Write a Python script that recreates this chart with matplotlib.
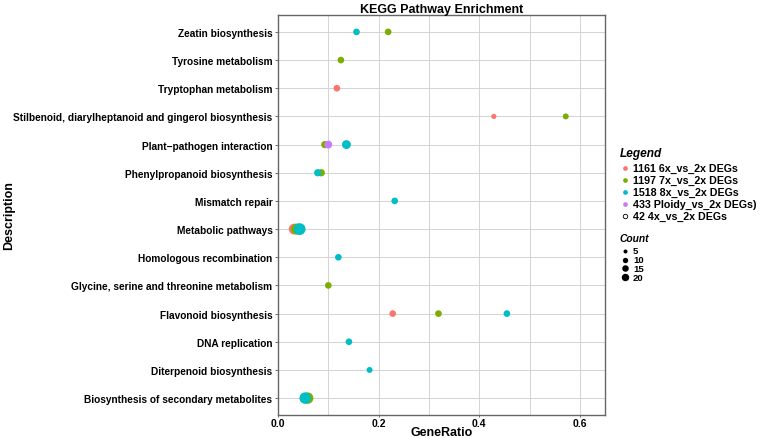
import numpy as np
import matplotlib
matplotlib.use("Agg")
import matplotlib.pyplot as plt

plt.rcParams['font.family'] = ['Liberation Sans', 'DejaVu Sans']

# pathways, bottom to top
pathways = [
    'Biosynthesis of secondary metabolites',
    'Diterpenoid biosynthesis',
    'DNA replication',
    'Flavonoid biosynthesis',
    'Glycine, serine and threonine metabolism',
    'Homologous recombination',
    'Metabolic pathways',
    'Mismatch repair',
    'Phenylpropanoid biosynthesis',
    'Plant\u2212pathogen interaction',
    'Stilbenoid, diarylheptanoid and gingerol biosynthesis',
    'Tryptophan metabolism',
    'Tyrosine metabolism',
    'Zeatin biosynthesis',
]

labels = ['1161 6x_vs_2x DEGs', '1197 7x_vs_2x DEGs', '1518 8x_vs_2x DEGs',
          '433 Ploidy_vs_2x DEGs)', '42 4x_vs_2x DEGs']
colors = ['#F8766D', '#7CAE00', '#00BFC4', '#C77CFF', 'none']

# 6x vs 2x
red_path = ['Tryptophan metabolism', 'Stilbenoid, diarylheptanoid and gingerol biosynthesis',
            'Metabolic pathways', 'Flavonoid biosynthesis']
red_ratio = [0.117, 0.429, 0.032, 0.228]
red_count = [4, 2, 12, 4]

# 7x vs 2x
green_path = ['Zeatin biosynthesis', 'Tyrosine metabolism',
              'Stilbenoid, diarylheptanoid and gingerol biosynthesis',
              'Plant\u2212pathogen interaction', 'Phenylpropanoid biosynthesis',
              'Metabolic pathways', 'Glycine, serine and threonine metabolism',
              'Flavonoid biosynthesis', 'Biosynthesis of secondary metabolites']
green_ratio = [0.219, 0.125, 0.572, 0.093, 0.086, 0.037, 0.100, 0.319, 0.059]
green_count = [4, 4, 3, 5, 5, 13, 4, 4, 14]

# Ploidy vs 2x
purple_path = ['Plant\u2212pathogen interaction']
purple_ratio = [0.100]
purple_count = [6]

# 8x vs 2x
cyan_path = ['Zeatin biosynthesis', 'Plant\u2212pathogen interaction',
             'Phenylpropanoid biosynthesis', 'Mismatch repair', 'Metabolic pathways',
             'Homologous recombination', 'Flavonoid biosynthesis', 'DNA replication',
             'Diterpenoid biosynthesis', 'Biosynthesis of secondary metabolites']
cyan_ratio = [0.156, 0.136, 0.079, 0.232, 0.043, 0.120, 0.455, 0.141, 0.182, 0.054]
cyan_count = [4, 8, 5, 4, 15, 4, 4, 4, 3, 14]

count_breaks = [5, 10, 15, 20]


def size_of(c):
    return 5 + 4.5 * np.asarray(c, dtype=float)


fig = plt.figure(figsize=(7.6, 4.39), dpi=100)
W, H = 760, 439
PL, PR, PT, PB = 278, 605, 16, 416
ax = fig.add_axes([PL / W, (H - PB) / H, (PR - PL) / W, (PB - PT) / H])

ypos = {p: i + 1 for i, p in enumerate(pathways)}
series = [
    (red_path, red_ratio, red_count, colors[0]),
    (green_path, green_ratio, green_count, colors[1]),
    (purple_path, purple_ratio, purple_count, colors[3]),
    (cyan_path, cyan_ratio, cyan_count, colors[2]),
]
for path, ratio, count, col in series:
    ax.scatter(ratio, [ypos[p] for p in path], s=size_of(count), c=col,
               edgecolors='none', zorder=3)

ax.set_xlim(0, 0.65)
ax.set_ylim(0.4, len(pathways) + 0.6)
ax.set_xticks([0.0, 0.2, 0.4, 0.6])
ax.set_xticklabels(['0.0', '0.2', '0.4', '0.6'])
ax.set_xticks([0.1, 0.3, 0.5], minor=True)
ax.set_yticks(range(1, len(pathways) + 1))
ax.set_yticklabels(pathways)
ax.grid(True, which='both', color='#d4d4d4', linewidth=0.7, zorder=0)
ax.set_axisbelow(True)
ax.tick_params(axis='both', which='major', labelsize=7.3, length=2.5,
               width=0.6, color='#555555', pad=1.5)
ax.tick_params(axis='x', which='major', length=1.5, pad=0.8, labelsize=7.5)
ax.tick_params(axis='x', which='minor', length=0)
for lab in ax.get_xticklabels() + ax.get_yticklabels():
    lab.set_fontweight('bold')
for sp in ax.spines.values():
    sp.set_color('#666666')
    sp.set_linewidth(1.0)

ax.set_xlabel('GeneRatio', fontsize=9, fontweight='bold')
ax.xaxis.set_label_coords(0.5, (PB - 427.5) / (PB - PT))
ax.set_ylabel('Description', fontsize=9, fontweight='bold')
ax.yaxis.set_label_coords((15 - PL) / (PR - PL), 0.5)
ax.set_title('KEGG Pathway Enrichment', fontsize=9, fontweight='bold', pad=2.5)

# legend drawn in pixel coordinates
lax = fig.add_axes([0, 0, 1, 1], zorder=-1)
lax.set_xlim(0, W)
lax.set_ylim(H, 0)
lax.axis('off')

lax.text(620, 154, 'Legend', fontsize=8.6, fontweight='bold', style='italic',
         va='center', ha='left')
for i, (lab, col) in enumerate(zip(labels, colors)):
    y = 169 + 12 * i
    if col == 'none':
        lax.plot(625, y, 'o', ms=3.2, mfc='white', mec='black', mew=0.6)
    else:
        lax.plot(625, y, 'o', ms=3.4, mfc=col, mec='none')
    lax.text(633, y, lab, fontsize=7.7, fontweight='bold', va='center', ha='left')

lax.text(620, 239, 'Count', fontsize=7.4, fontweight='bold', style='italic',
         va='center', ha='left')
for i, c in enumerate(count_breaks):
    y = 252 + 8.7 * i
    lax.plot(625, y, 'o', ms=np.sqrt(size_of(c)) * 0.55, mfc='black', mec='none')
    lax.text(633, y, str(c), fontsize=6.8, fontweight='bold', va='center', ha='left')

fig.savefig('out.png', dpi=100)
